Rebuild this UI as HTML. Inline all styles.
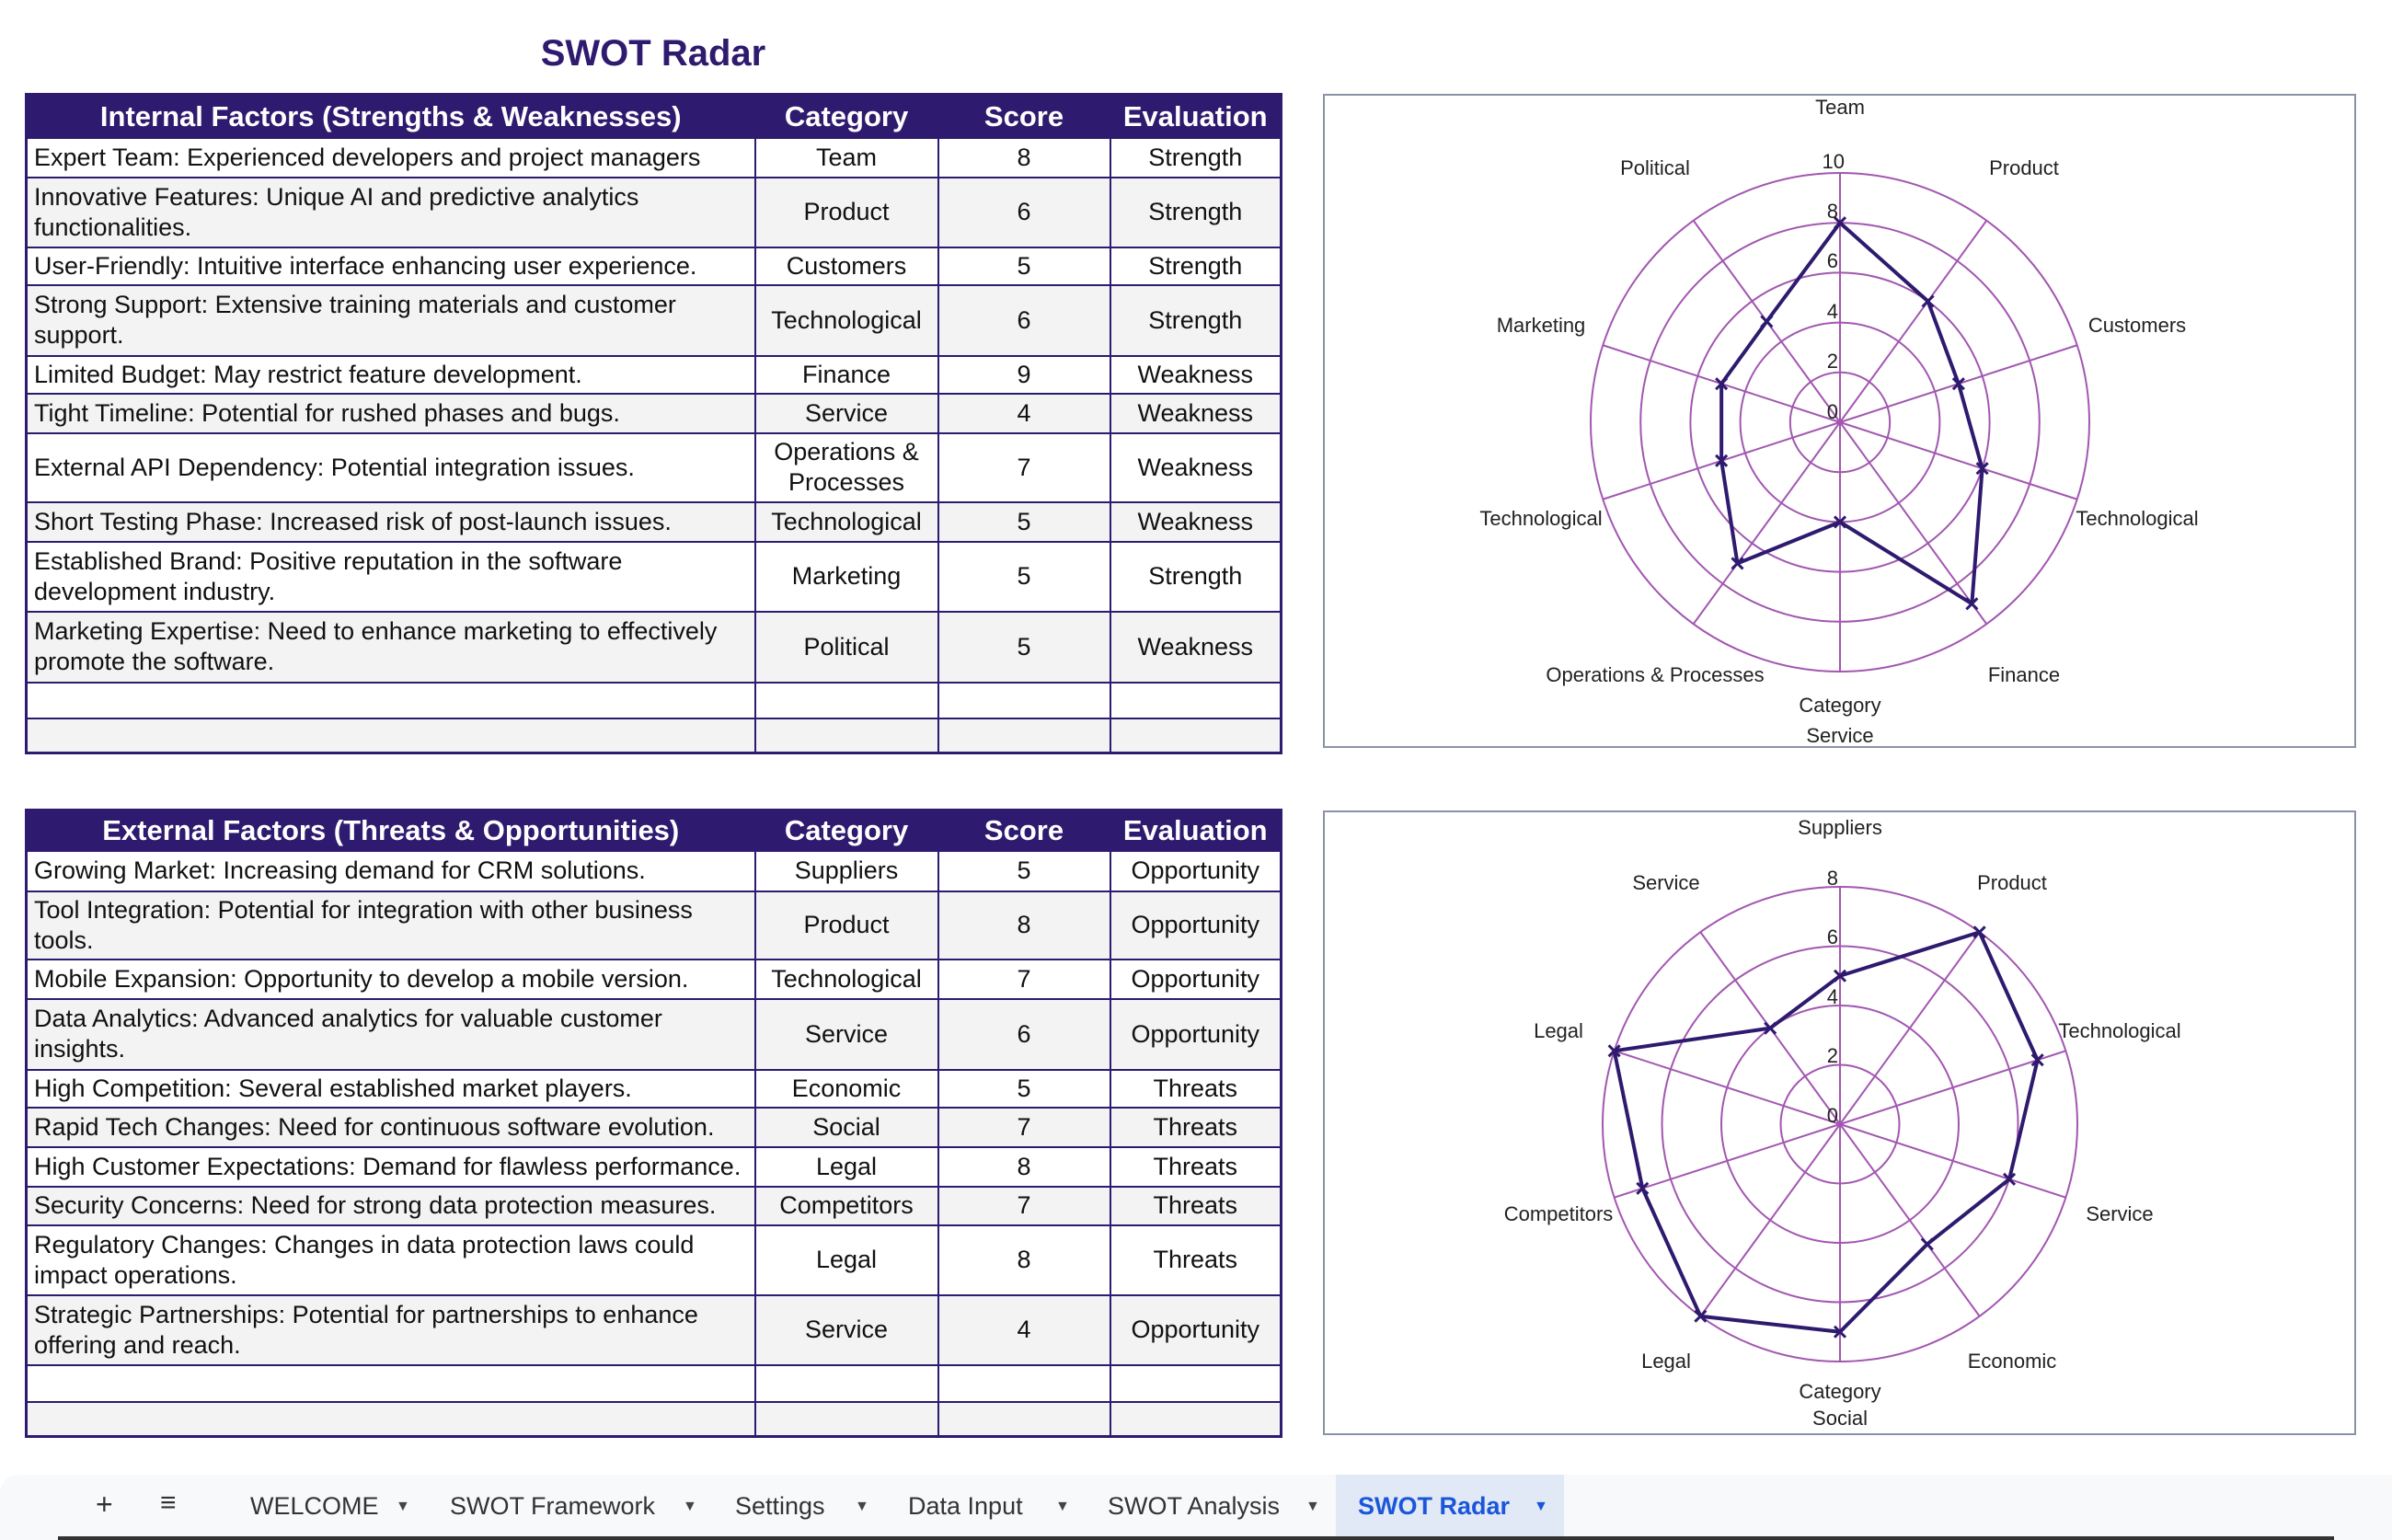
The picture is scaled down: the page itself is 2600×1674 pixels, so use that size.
<!DOCTYPE html>
<html><head><meta charset="utf-8">
<style>
body{margin:0;width:2600px;height:1674px;background:#fff;position:relative;overflow:hidden;font-family:"Liberation Sans",sans-serif;}
.title{position:absolute;left:0;width:1420px;top:36px;text-align:center;font-size:40px;font-weight:bold;color:#2e1a6e;}
table{position:absolute;left:27px;border-collapse:collapse;border:3px solid #2e1a6e;table-layout:fixed;}
td,th{border:2px solid #2e1a6e;padding:0 8px;font-size:27px;color:#111;text-align:center;line-height:33px;overflow:hidden;}
th{background:#2e1a6e;color:#fff;font-size:31px;font-weight:bold;}
td.l{text-align:left;padding-left:7px;}
tr.g td{background:#f3f3f3;}
.tabs{position:absolute;left:0;top:1603px;width:2600px;height:71px;background:#f8f9fb;border-top-left-radius:20px;}
.tab{position:absolute;top:19px;font-size:27px;color:#333;}
.arr{position:absolute;top:26px;font-size:16px;color:#444;}
</style></head><body>
<div class="title">SWOT Radar</div>

<table style="top:101px">
<colgroup><col style="width:792px"><col style="width:199px"><col style="width:187px"><col style="width:186px"></colgroup>
<tr style="height:47px"><th>Internal Factors (Strengths &amp; Weaknesses)</th><th>Category</th><th>Score</th><th>Evaluation</th></tr>
<tr style="height:43px"><td class="l">Expert Team: Experienced developers and project managers</td><td>Team</td><td>8</td><td>Strength</td></tr>
<tr class="g" style="height:76px"><td class="l">Innovative Features: Unique AI and predictive analytics functionalities.</td><td>Product</td><td>6</td><td>Strength</td></tr>
<tr style="height:41px"><td class="l">User-Friendly: Intuitive interface enhancing user experience.</td><td>Customers</td><td>5</td><td>Strength</td></tr>
<tr class="g" style="height:77px"><td class="l">Strong Support: Extensive training materials and customer support.</td><td>Technological</td><td>6</td><td>Strength</td></tr>
<tr style="height:41px"><td class="l">Limited Budget: May restrict feature development.</td><td>Finance</td><td>9</td><td>Weakness</td></tr>
<tr class="g" style="height:43px"><td class="l">Tight Timeline: Potential for rushed phases and bugs.</td><td>Service</td><td>4</td><td>Weakness</td></tr>
<tr style="height:75px"><td class="l">External API Dependency: Potential integration issues.</td><td>Operations &amp; Processes</td><td>7</td><td>Weakness</td></tr>
<tr class="g" style="height:43px"><td class="l">Short Testing Phase: Increased risk of post-launch issues.</td><td>Technological</td><td>5</td><td>Weakness</td></tr>
<tr style="height:76px"><td class="l">Established Brand: Positive reputation in the software development industry.</td><td>Marketing</td><td>5</td><td>Strength</td></tr>
<tr class="g" style="height:77px"><td class="l">Marketing Expertise: Need to enhance marketing to effectively promote the software.</td><td>Political</td><td>5</td><td>Weakness</td></tr>
<tr style="height:39px"><td></td><td></td><td></td><td></td></tr>
<tr class="g" style="height:38px"><td></td><td></td><td></td><td></td></tr>
</table>

<table style="top:879px">
<colgroup><col style="width:792px"><col style="width:199px"><col style="width:187px"><col style="width:186px"></colgroup>
<tr style="height:44px"><th>External Factors (Threats &amp; Opportunities)</th><th>Category</th><th>Score</th><th>Evaluation</th></tr>
<tr style="height:44px"><td class="l">Growing Market: Increasing demand for CRM solutions.</td><td>Suppliers</td><td>5</td><td>Opportunity</td></tr>
<tr class="g" style="height:74px"><td class="l">Tool Integration: Potential for integration with other business tools.</td><td>Product</td><td>8</td><td>Opportunity</td></tr>
<tr style="height:43px"><td class="l">Mobile Expansion: Opportunity to develop a mobile version.</td><td>Technological</td><td>7</td><td>Opportunity</td></tr>
<tr class="g" style="height:77px"><td class="l">Data Analytics: Advanced analytics for valuable customer insights.</td><td>Service</td><td>6</td><td>Opportunity</td></tr>
<tr style="height:41px"><td class="l">High Competition: Several established market players.</td><td>Economic</td><td>5</td><td>Threats</td></tr>
<tr class="g" style="height:43px"><td class="l">Rapid Tech Changes: Need for continuous software evolution.</td><td>Social</td><td>7</td><td>Threats</td></tr>
<tr style="height:43px"><td class="l">High Customer Expectations: Demand for flawless performance.</td><td>Legal</td><td>8</td><td>Threats</td></tr>
<tr class="g" style="height:42px"><td class="l">Security Concerns: Need for strong data protection measures.</td><td>Competitors</td><td>7</td><td>Threats</td></tr>
<tr style="height:76px"><td class="l">Regulatory Changes: Changes in data protection laws could impact operations.</td><td>Legal</td><td>8</td><td>Threats</td></tr>
<tr class="g" style="height:76px"><td class="l">Strategic Partnerships: Potential for partnerships to enhance offering and reach.</td><td>Service</td><td>4</td><td>Opportunity</td></tr>
<tr style="height:40px"><td></td><td></td><td></td><td></td></tr>
<tr class="g" style="height:38px"><td></td><td></td><td></td><td></td></tr>
</table>

<svg id="sv" width="2600" height="1674" style="position:absolute;left:0;top:0" font-family="Liberation Sans, sans-serif" font-size="22" fill="#222">
<rect x="1439" y="103" width="1121" height="709" fill="none" stroke="#8a93a6" stroke-width="2"/>
<rect x="1439" y="882" width="1121" height="677" fill="none" stroke="#8a93a6" stroke-width="2"/>
<g id="g1"></g><g id="g2"></g>
<g text-anchor="middle">
<text x="2000" y="124">Team</text>
<text x="2200" y="190">Product</text>
<text x="2323" y="361">Customers</text>
<text x="2323" y="571">Technological</text>
<text x="2200" y="741">Finance</text>
<text x="2000" y="774">Category</text>
<text x="2000" y="807">Service</text>
<text x="1799" y="741">Operations &amp; Processes</text>
<text x="1675" y="571">Technological</text>
<text x="1675" y="361">Marketing</text>
<text x="1799" y="190">Political</text>

<text x="2000" y="907">Suppliers</text>
<text x="2187" y="967">Product</text>
<text x="2304" y="1128">Technological</text>
<text x="2304" y="1327">Service</text>
<text x="2187" y="1487">Economic</text>
<text x="2000" y="1520">Category</text>
<text x="2000" y="1549">Social</text>
<text x="1811" y="1487">Legal</text>
<text x="1694" y="1327">Competitors</text>
<text x="1694" y="1128">Legal</text>
<text x="1811" y="967">Service</text>
</g>
<g text-anchor="end" font-size="22">
<text x="2005" y="183">10</text><text x="1998" y="237">8</text><text x="1998" y="291">6</text><text x="1998" y="346">4</text><text x="1998" y="400">2</text><text x="1998" y="455">0</text>
<text x="1998" y="962">8</text><text x="1998" y="1026">6</text><text x="1998" y="1091">4</text><text x="1998" y="1155">2</text><text x="1998" y="1220">0</text>
</g>
</svg>

<div class="tabs">
<div class="tab" style="left:104px;font-size:32px;top:14px">+</div>
<div class="tab" style="left:174px;font-size:30px;top:14px">≡</div>
<div class="tab" style="left:272px">WELCOME</div><div class="arr" style="left:430px">▼</div>
<div class="tab" style="left:489px">SWOT Framework</div><div class="arr" style="left:742px">▼</div>
<div class="tab" style="left:799px">Settings</div><div class="arr" style="left:929px">▼</div>
<div class="tab" style="left:987px">Data Input</div><div class="arr" style="left:1147px">▼</div>
<div class="tab" style="left:1204px">SWOT Analysis</div><div class="arr" style="left:1419px">▼</div>
<div style="position:absolute;left:1452px;top:0;width:248px;height:67px;background:#e1e8f6"></div>
<div class="tab" style="left:1476px;color:#1a56d9;font-weight:bold">SWOT Radar</div><div class="arr" style="left:1667px;color:#1a56d9">▼</div>
<div style="position:absolute;left:63px;top:67px;width:2474px;height:4px;background:#333"></div>
</div>

<script>
function radar(id,cx,cy,R,max,rings,vals){
 var g=document.getElementById(id),s='',n=vals.length,i;
 rings.forEach(function(k){s+='<circle cx="'+cx+'" cy="'+cy+'" r="'+(R*k/max)+'" fill="none" stroke="#a257b0" stroke-width="2"/>';});
 var pts=[];
 for(i=0;i<n;i++){var a=i*2*Math.PI/n,sx=Math.sin(a),cy_=-Math.cos(a);
  s+='<line x1="'+cx+'" y1="'+cy+'" x2="'+(cx+R*sx)+'" y2="'+(cy+R*cy_)+'" stroke="#a257b0" stroke-width="2"/>';
  var r=R*vals[i]/max;pts.push([cx+r*sx,cy+r*cy_]);}
 s+='<polygon points="'+pts.map(function(p){return p[0]+','+p[1]}).join(' ')+'" fill="none" stroke="#2e1a6e" stroke-width="4"/>';
 pts.forEach(function(p){s+='<path d="M'+(p[0]-6)+' '+(p[1]-6)+'L'+(p[0]+6)+' '+(p[1]+6)+'M'+(p[0]+6)+' '+(p[1]-6)+'L'+(p[0]-6)+' '+(p[1]+6)+'" stroke="#2e1a6e" stroke-width="3"/>';});
 g.innerHTML=s;
}
radar('g1',2000,459,271,10,[2,4,6,8,10],[8,6,5,6,9,4,7,5,5,5]);
radar('g2',2000,1222,258,8,[2,4,6,8],[5,8,7,6,5,7,8,7,8,4]);
</script>
</body></html>
